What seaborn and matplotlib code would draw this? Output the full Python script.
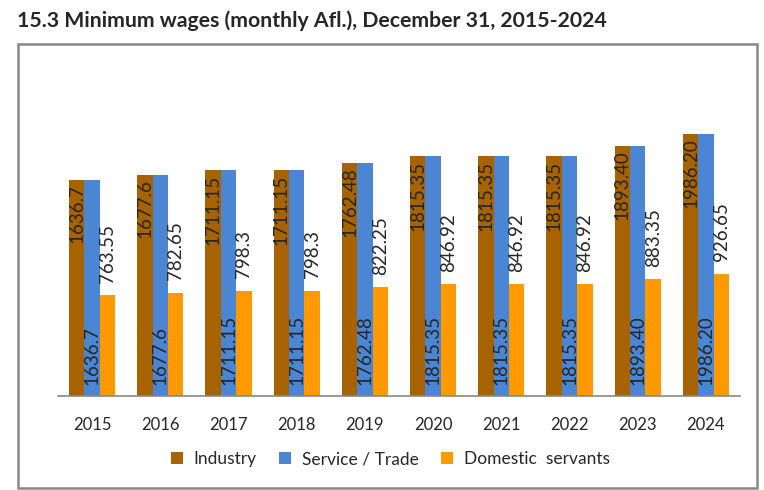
import pandas as pd
import seaborn as sns
import matplotlib.pyplot as plt
from matplotlib.patches import Rectangle
from matplotlib.ticker import FixedLocator

# dados
anos = ['2015', '2016', '2017', '2018', '2019', '2020', '2021', '2022', '2023', '2024']
industry = [1636.7, 1677.6, 1711.15, 1711.15, 1762.48, 1815.35, 1815.35, 1815.35, 1893.40, 1986.20]
service = [1636.7, 1677.6, 1711.15, 1711.15, 1762.48, 1815.35, 1815.35, 1815.35, 1893.40, 1986.20]
domestic = [763.55, 782.65, 798.3, 798.3, 822.25, 846.92, 846.92, 846.92, 883.35, 926.65]
lbl_industry = ['1636.7', '1677.6', '1711.15', '1711.15', '1762.48', '1815.35', '1815.35', '1815.35', '1893.40', '1986.20']
lbl_service = lbl_industry
lbl_domestic = ['763.55', '782.65', '798.3', '798.3', '822.25', '846.92', '846.92', '846.92', '883.35', '926.65']
series = ['Industry', 'Service / Trade', 'Domestic  servants']
cores = ['#a66300', '#4a86d4', '#ff9900']

df = pd.DataFrame({
    'ano': anos * 3,
    'valor': industry + service + domestic,
    'serie': [series[0]] * 10 + [series[1]] * 10 + [series[2]] * 10,
})

sns.set_style('white')
plt.rcParams['font.family'] = ['Lato', 'DejaVu Sans']

fig = plt.figure(figsize=(7.64, 4.9), dpi=100)
ax = fig.add_axes([58 / 764, 94 / 490, 682 / 764, 330 / 490])

sns.barplot(data=df, x='ano', y='valor', hue='serie', palette=cores,
            width=0.68, saturation=1, linewidth=0, ax=ax, legend=True)

ax.set_ylim(0, 2500)
ax.set_xlim(-0.5, 9.5)
ax.set_xlabel('')
ax.set_ylabel('')
ax.set_yticks([])
for s in ['top', 'left', 'right']:
    ax.spines[s].set_visible(False)
ax.spines['bottom'].set_color('#888888')
ax.spines['bottom'].set_linewidth(1.2)

# ticks entre as categorias
ax.tick_params(axis='x', which='major', length=0, labelsize=12, pad=15)
ax.xaxis.set_minor_locator(FixedLocator([i - 0.5 for i in range(11)]))
ax.tick_params(axis='x', which='minor', length=6, color='#888888', width=1.2)

# rótulos das barras
c_ind, c_ser, c_dom = ax.containers
for p, t in zip(c_ind, lbl_industry):
    ax.annotate(t, (p.get_x() + p.get_width() / 2, p.get_height()), xytext=(0, -3),
                textcoords='offset points', rotation=90, ha='center', va='top', fontsize=13.5)
for p, t in zip(c_ser, lbl_service):
    ax.annotate(t, (p.get_x() + p.get_width() / 2, 0), xytext=(0, 8),
                textcoords='offset points', rotation=90, ha='center', va='bottom', fontsize=13.5)
for p, t in zip(c_dom, lbl_domestic):
    ax.annotate(t, (p.get_x() + p.get_width() / 2, p.get_height()), xytext=(0, 9),
                textcoords='offset points', rotation=90, ha='center', va='bottom', fontsize=13.5)

ax.legend(loc='center', bbox_to_anchor=(0.487, -0.192), ncol=3, frameon=False,
          fontsize=12.5, handlelength=0.7, handleheight=0.7, columnspacing=1.3, handletextpad=0.6)

# moldura e título
fig.patches.append(Rectangle((18 / 764, 2 / 490), 739 / 764, 444 / 490, transform=fig.transFigure,
                             fill=False, edgecolor='#888888', linewidth=1.8))
fig.text(17 / 764, 1 - 21 / 490, '15.3 Minimum wages (monthly Afl.), December 31, 2015-2024',
         fontsize=15.3, fontweight='bold', va='center', ha='left')

plt.savefig('out.png', dpi=100)
